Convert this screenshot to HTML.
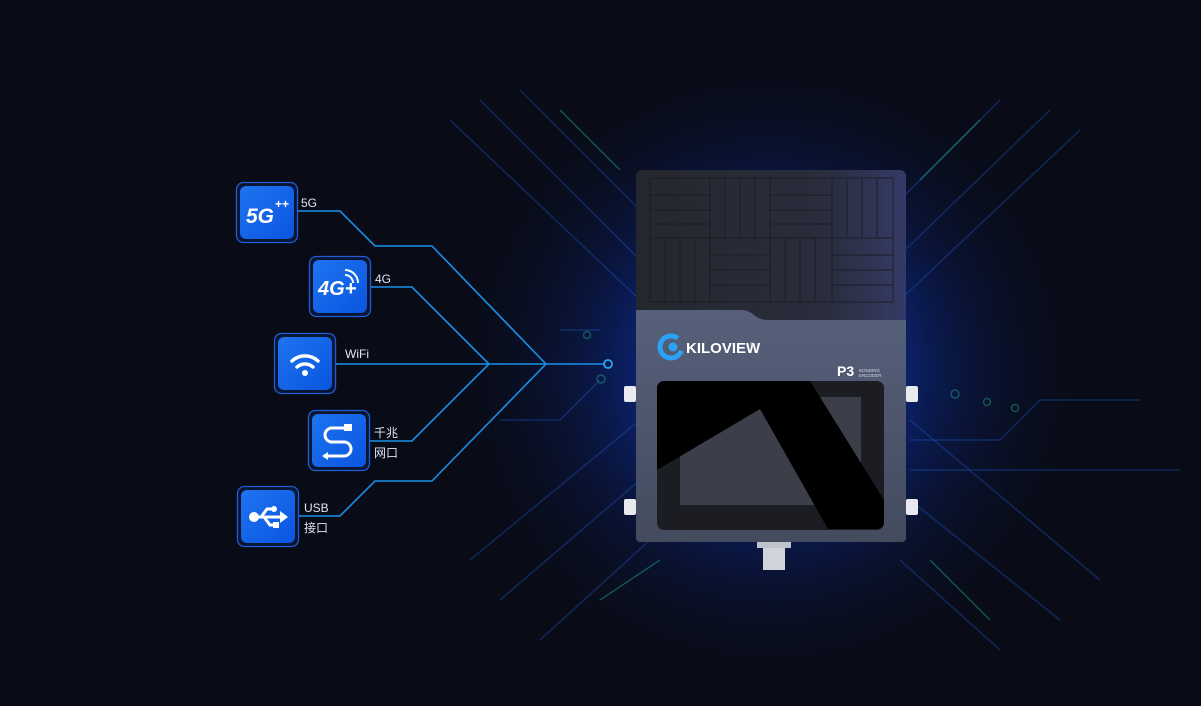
<!DOCTYPE html>
<html><head><meta charset="utf-8"><style>
html,body{margin:0;padding:0;background:#090c17;}
svg{display:block}
text{font-family:"Liberation Sans","Noto Sans CJK SC",sans-serif;}
</style></head><body>
<svg width="1201" height="706" viewBox="0 0 1201 706" xmlns="http://www.w3.org/2000/svg">
<defs>
<radialGradient id="glow" cx="770" cy="370" r="330" gradientUnits="userSpaceOnUse">
<stop offset="0" stop-color="#1a4fe0" stop-opacity="0.95"/>
<stop offset="0.35" stop-color="#0d2fa0" stop-opacity="0.7"/>
<stop offset="0.7" stop-color="#0a1a55" stop-opacity="0.3"/>
<stop offset="1" stop-color="#090c17" stop-opacity="0"/>
</radialGradient>
<linearGradient id="ic" x1="0" y1="0" x2="1" y2="1">
<stop offset="0" stop-color="#1e74f0"/><stop offset="1" stop-color="#0a55e0"/>
</linearGradient>
<linearGradient id="top" x1="0" y1="0" x2="1" y2="0">
<stop offset="0" stop-color="#25272e"/><stop offset="0.7" stop-color="#2a2d3c"/><stop offset="1" stop-color="#343a66"/>
</linearGradient>
<linearGradient id="body" x1="0" y1="0" x2="0" y2="1">
<stop offset="0" stop-color="#56607a"/><stop offset="1" stop-color="#444b5e"/>
</linearGradient>
</defs>
<rect width="1201" height="706" fill="#090c17"/>
<rect width="1201" height="706" fill="url(#glow)"/>
<g stroke="#1e5fd0" stroke-opacity="0.35" stroke-width="1.5" fill="none">
<path d="M450 120 L640 300"/><path d="M480 100 L650 270"/><path d="M520 90 L660 230"/>
<path d="M470 560 L640 420"/><path d="M500 600 L640 480"/><path d="M540 640 L650 540"/>
<path d="M1080 130 L900 300"/><path d="M1050 110 L905 250"/><path d="M1000 100 L900 200"/>
<path d="M1100 580 L910 420"/><path d="M1060 620 L910 500"/><path d="M1000 650 L900 560"/>
<path d="M910 440 L1000 440 L1040 400 L1140 400"/><path d="M910 470 L1180 470"/>
<path d="M600 380 L560 420 L500 420"/><path d="M560 330 L600 330"/>
</g>
<g stroke="#1fa88a" stroke-opacity="0.45" stroke-width="1.5" fill="none">
<path d="M620 170 L560 110"/><path d="M920 180 L980 120"/><path d="M600 600 L660 560"/><path d="M930 560 L990 620"/>
<circle cx="587" cy="335" r="3.5"/><circle cx="601" cy="379" r="4"/><circle cx="955" cy="394" r="4"/><circle cx="987" cy="402" r="3.5"/><circle cx="1015" cy="408" r="3.5"/>
</g>
<g stroke="#1a8fe8" stroke-width="1.6" fill="none">
<path d="M297 211 L340 211 L375 246 L432 246 L546 364"/>
<path d="M370 287 L412 287 L489 364"/>
<path d="M335 364 L604 364"/>
<path d="M370 441 L412 441 L489 364"/>
<path d="M298 516 L340 516 L375 481 L432 481 L546 364"/>
</g>
<circle cx="608" cy="364" r="4" fill="none" stroke="#2aa8f0" stroke-width="1.8"/>
<g stroke="#1c5ed8" stroke-width="1.3">
<rect x="236.5" y="182.5" width="61" height="60" rx="7" fill="#0b1430"/>
<rect x="309.5" y="256.5" width="61" height="60" rx="7" fill="#0b1430"/>
<rect x="274.5" y="333.5" width="61" height="60" rx="7" fill="#0b1430"/>
<rect x="308.5" y="410.5" width="61" height="60" rx="7" fill="#0b1430"/>
<rect x="237.5" y="486.5" width="61" height="60" rx="7" fill="#0b1430"/>
</g>
<rect x="240" y="186" width="54" height="53" rx="6" fill="url(#ic)"/>
<rect x="313" y="260" width="54" height="53" rx="6" fill="url(#ic)"/>
<rect x="278" y="337" width="54" height="53" rx="6" fill="url(#ic)"/>
<rect x="312" y="414" width="54" height="53" rx="6" fill="url(#ic)"/>
<rect x="241" y="490" width="54" height="53" rx="6" fill="url(#ic)"/>
<text x="246" y="223" fill="#fff" font-size="21" font-weight="bold" font-style="italic">5G</text>
<text x="275" y="208" fill="#fff" font-size="12" font-weight="bold">++</text>
<text x="318" y="295" fill="#fff" font-size="20" font-weight="bold" font-style="italic">4G+</text>
<path d="M345 275 a8 8 0 0 1 8 8 M345 270 a13 13 0 0 1 13 13" stroke="#fff" stroke-width="2" fill="none"/>
<g stroke="#fff" stroke-width="3.5" fill="none" stroke-linecap="round">
<path d="M292 361 a19 19 0 0 1 26 0"/><path d="M297 367 a12 12 0 0 1 16 0"/>
</g>
<circle cx="305" cy="373" r="3" fill="#fff"/>
<path d="M350 428 H332 a7 7 0 0 0 0 14 H344 a7 7 0 0 1 0 14 H326" stroke="#fff" stroke-width="3" fill="none"/>
<rect x="344" y="424" width="8" height="7" fill="#fff"/>
<path d="M322 456 l6 -4 v8z" fill="#fff"/>
<g fill="#fff"><circle cx="254" cy="517" r="5"/><rect x="254" y="515.5" width="27" height="3"/>
<path d="M280 511 l8 6 -8 6z"/><path d="M261 517 l6 -8 h5" stroke="#fff" stroke-width="3" fill="none"/><circle cx="274" cy="509" r="3"/>
<path d="M264 517 l6 8 h4" stroke="#fff" stroke-width="3" fill="none"/><rect x="273" y="522" width="6" height="6"/></g>
<g fill="#dfe6f2" font-size="12">
<text x="301" y="207">5G</text><text x="375" y="283">4G</text><text x="345" y="358">WiFi</text>
<text x="374" y="437">千兆</text><text x="374" y="457">网口</text>
<text x="304" y="512">USB</text><text x="304" y="532">接口</text>
</g>
<rect x="624" y="386" width="12" height="16" rx="2" fill="#e8eaef"/>
<rect x="624" y="499" width="12" height="16" rx="2" fill="#e8eaef"/>
<rect x="906" y="386" width="12" height="16" rx="2" fill="#e8eaef"/>
<rect x="906" y="499" width="12" height="16" rx="2" fill="#e8eaef"/>
<rect x="763" y="540" width="22" height="30" fill="#cfd3da"/>
<rect x="757" y="540" width="34" height="8" fill="#bfc4cc"/>
<path d="M636 310 H906 V538 a4 4 0 0 1 -4 4 H640 a4 4 0 0 1 -4 -4z" fill="url(#body)"/>
<path d="M636 176 a6 6 0 0 1 6 -6 H900 a6 6 0 0 1 6 6 V320 H768 Q760 320 754 315 Q748 310 742 310 H636z" fill="url(#top)"/>
<g stroke="#1a1c22" stroke-width="1" fill="none" opacity="0.9">
<rect x="650" y="178" width="243" height="124"/>
<line x1="650" y1="238" x2="893" y2="238"/>
<line x1="710" y1="178" x2="710" y2="238"/><line x1="770" y1="178" x2="770" y2="238"/><line x1="832" y1="178" x2="832" y2="238"/>
<line x1="650" y1="195" x2="710" y2="195"/><line x1="650" y1="210" x2="710" y2="210"/><line x1="650" y1="224" x2="710" y2="224"/>
<line x1="725" y1="178" x2="725" y2="238"/><line x1="740" y1="178" x2="740" y2="238"/><line x1="755" y1="178" x2="755" y2="238"/>
<line x1="770" y1="195" x2="832" y2="195"/><line x1="770" y1="210" x2="832" y2="210"/><line x1="770" y1="224" x2="832" y2="224"/>
<line x1="847" y1="178" x2="847" y2="238"/><line x1="862" y1="178" x2="862" y2="238"/><line x1="877" y1="178" x2="877" y2="238"/>
<line x1="710" y1="238" x2="710" y2="302"/><line x1="770" y1="238" x2="770" y2="302"/><line x1="832" y1="238" x2="832" y2="302"/>
<line x1="665" y1="238" x2="665" y2="302"/><line x1="680" y1="238" x2="680" y2="302"/><line x1="695" y1="238" x2="695" y2="302"/>
<line x1="710" y1="255" x2="770" y2="255"/><line x1="710" y1="270" x2="770" y2="270"/><line x1="710" y1="285" x2="770" y2="285"/>
<line x1="785" y1="238" x2="785" y2="302"/><line x1="800" y1="238" x2="800" y2="302"/><line x1="815" y1="238" x2="815" y2="302"/>
<line x1="832" y1="255" x2="893" y2="255"/><line x1="832" y1="270" x2="893" y2="270"/><line x1="832" y1="285" x2="893" y2="285"/>
</g>
<circle cx="671" cy="347" r="11" fill="none" stroke="#2aa2f5" stroke-width="5" stroke-dasharray="55 14" transform="rotate(20 671 347)"/>
<circle cx="673" cy="347" r="4.5" fill="#2aa2f5"/>
<text x="686" y="353" fill="#fff" font-size="15" font-weight="bold">KILOVIEW</text>
<text x="750" y="346" fill="#ccd" font-size="5">®</text>
<text x="837" y="376" fill="#fff" font-size="14" font-weight="bold">P3</text>
<text x="859" y="372" fill="#cfd4e0" font-size="4.5">BONDING</text>
<text x="859" y="377" fill="#cfd4e0" font-size="4.5">ENCODER</text>
<rect x="657" y="381" width="227" height="149" rx="7" fill="#1b1d23"/>
<rect x="680" y="397" width="181" height="108" fill="#3c3f49"/>
<path d="M664 381 H810 L884 500 V522 a7 7 0 0 1 -7 7 H828 L760 409 L657 470 V388 a7 7 0 0 1 7 -7z" fill="#000"/>
</svg>
</body></html>
